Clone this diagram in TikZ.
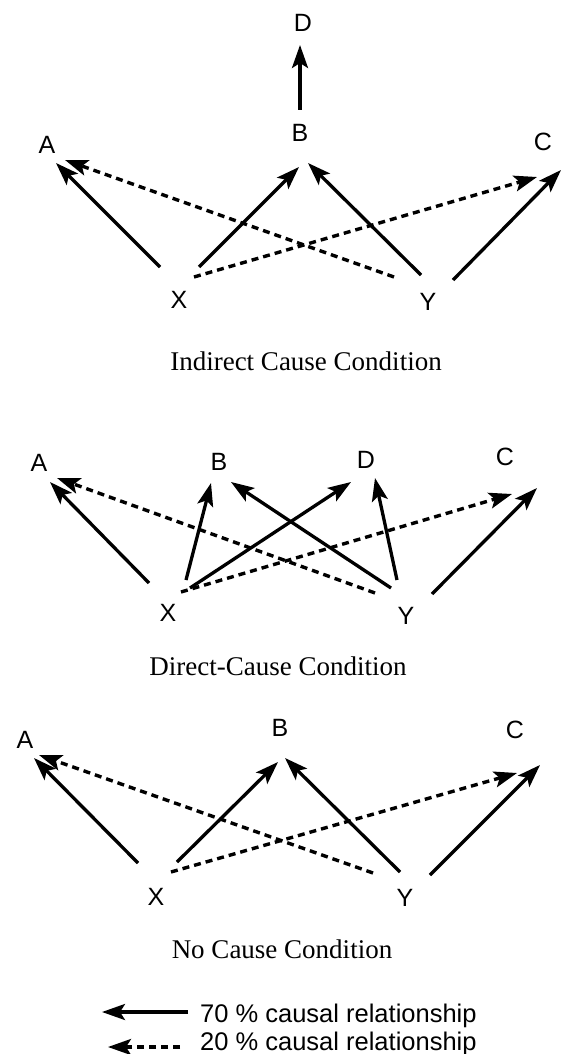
\documentclass[tikz,border=0pt]{standalone}
\usepackage{fontspec}
\setmainfont{Liberation Serif}
\setsansfont{Liberation Sans}
\usetikzlibrary{arrows.meta,calc}
\begin{document}
\begin{tikzpicture}[x=1pt,y=-1pt,
  lbl/.style={font=\sffamily\fontsize{25}{25}\selectfont, inner sep=0pt},
  ttl/.style={font=\rmfamily\fontsize{27}{27}\selectfont, inner sep=0pt, anchor=base},
  leg/.style={font=\sffamily\fontsize{25.5}{25.5}\selectfont, inner sep=0pt, anchor=base west},
  strong/.style={line width=3.3pt, -{Stealth[length=23pt,width=16pt,inset=5pt]}},
  weak/.style={line width=3.4pt, dash pattern=on 7pt off 5pt, -{Stealth[length=23pt,width=16pt,inset=5pt]}}]
\useasboundingbox[fill=white] (0,0) rectangle (562,1054);

% ---------- Panel 1: Indirect cause ----------
\node[lbl] (D1) at (303,23) {D};
\node[lbl] (B1) at (300,133) {B};
\node[lbl] (A1) at (47,145) {A};
\node[lbl] (C1) at (543,142) {C};
\node[lbl] (X1) at (179,300) {X};
\node[lbl] (Y1) at (428,302) {Y};
\draw[strong] ($(B1)+(0,-23)$) -- ($(D1)+(-3,22)$);
\draw[strong] ($(X1)+(-19,-33)$) -- ($(A1)+(9,18)$);
\draw[weak]   ($(Y1)+(-34,-25)$) -- ($(A1)+(18,15)$);
\draw[strong] ($(X1)+(20,-33)$) -- ($(B1)+(-1,34)$);
\draw[strong] ($(Y1)+(-7,-27)$) -- ($(B1)+(8,30)$);
\draw[weak]   ($(X1)+(15,-23)$) -- ($(C1)+(-6,35)$);
\draw[strong] ($(Y1)+(25,-22)$) -- ($(C1)+(18,28)$);
\node[ttl] (T1) at (306,370) {Indirect Cause Condition};

% ---------- Panel 2: Direct cause ----------
\node[lbl] (A2) at (39,463) {A};
\node[lbl] (B2) at (219,462) {B};
\node[lbl] (D2) at (366,460) {D};
\node[lbl] (C2) at (505,457) {C};
\node[lbl] (X2) at (168,613) {X};
\node[lbl] (Y2) at (406,616) {Y};
\draw[strong] ($(X2)+(-19,-30)$) -- ($(A2)+(11,19)$);
\draw[weak]   ($(Y2)+(-31,-23)$) -- ($(A2)+(18,15)$);
\draw[strong] ($(X2)+(18,-33)$) -- ($(B2)+(-8,21)$);
\draw[strong] ($(X2)+(22,-25)$) -- ($(D2)+(-15,22)$);
\draw[strong] ($(Y2)+(-15,-28)$) -- ($(B2)+(12,20)$);
\draw[strong] ($(Y2)+(-9,-36)$) -- ($(D2)+(9,18)$);
\draw[weak]   ($(X2)+(13,-21)$) -- ($(C2)+(7,37)$);
\draw[strong] ($(Y2)+(26,-22)$) -- ($(C2)+(32,31)$);
\node[ttl] (T2) at (278,675) {Direct-Cause Condition};

% ---------- Panel 3: No cause ----------
\node[lbl] (A3) at (25,740) {A};
\node[lbl] (B3) at (280,728) {B};
\node[lbl] (C3) at (515,730) {C};
\node[lbl] (X3) at (156,897) {X};
\node[lbl] (Y3) at (405,898) {Y};
\draw[strong] ($(X3)+(-18,-34)$) -- ($(A3)+(9,18)$);
\draw[weak]   ($(Y3)+(-32,-25)$) -- ($(A3)+(14,15)$);
\draw[strong] ($(X3)+(21,-35)$) -- ($(B3)+(-2,34)$);
\draw[strong] ($(Y3)+(-5,-26)$) -- ($(B3)+(5,30)$);
\draw[weak]   ($(X3)+(15,-25)$) -- ($(C3)+(2,43)$);
\draw[strong] ($(Y3)+(25,-23)$) -- ($(C3)+(25,35)$);
\node[ttl] (T3) at (282,958) {No Cause Condition};

% ---------- Legend ----------
\node[leg] (L1) at (200,1022) {70 \% causal relationship};
\node[leg] (L2) at (200,1050) {20 \% causal relationship};
\coordinate (L1tail) at (188,1012);
\coordinate (L1tip) at (102,1012);
\coordinate (L2tail) at (180,1047);
\coordinate (L2tip) at (108,1047);
\draw[strong] (L1tail) -- (L1tip);
\draw[weak]   (L2tail) -- (L2tip);
\end{tikzpicture}
\end{document}
